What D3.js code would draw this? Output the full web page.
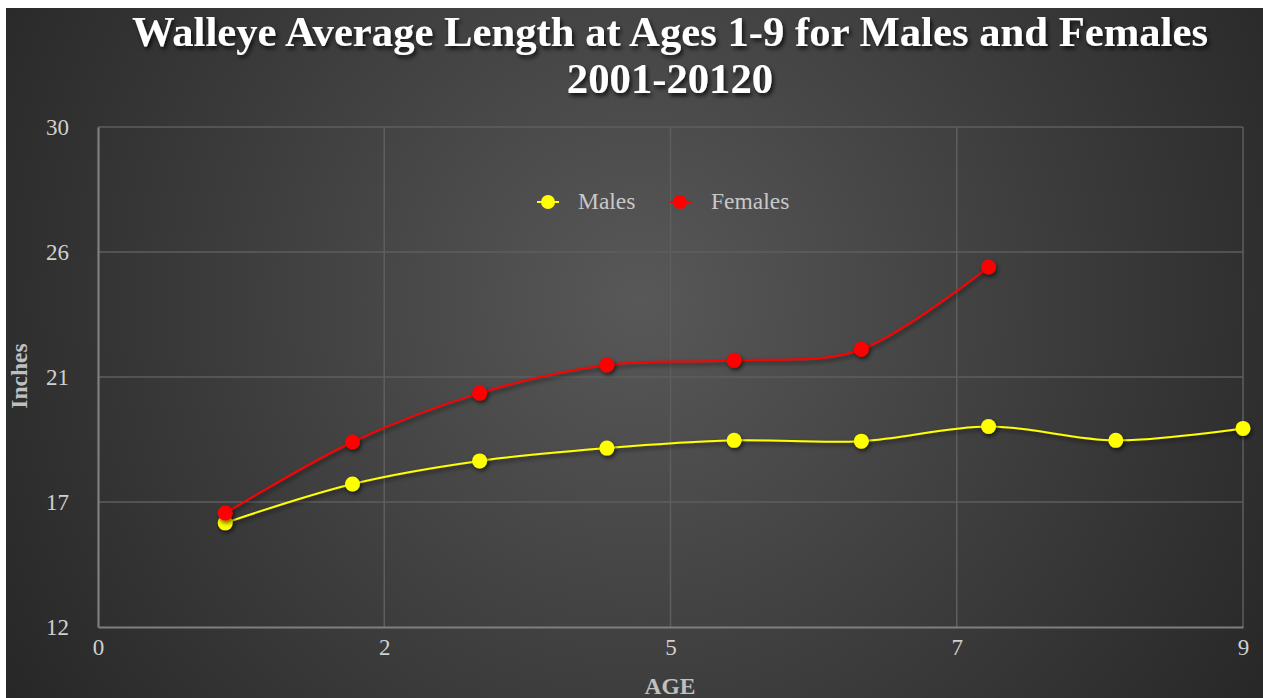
<!DOCTYPE html>
<html>
<head>
<meta charset="utf-8">
<script src="https://cdn.jsdelivr.net/npm/d3@7"></script>
<style>
  html, body { margin: 0; padding: 0; background: #ffffff; }
  svg { display: block; }
</style>
</head>
<body>
<svg id="chart" width="1263" height="698"></svg>
<script>
// ---- data ----
const ages = [1, 2, 3, 4, 5, 6, 7, 8, 9];
const males = [15.75, 17.15, 17.98, 18.44, 18.72, 18.69, 19.22, 18.72, 19.15];
const females = [16.1, 18.66, 20.42, 21.43, 21.6, 22.0, 24.96];
const xTickValues = [0, 2.25, 4.5, 6.75, 9];
const xTickLabels = ["0", "2", "5", "7", "9"];
const yTickValues = [12, 16.5, 21, 25.5, 30];
const yTickLabels = ["12", "17", "21", "26", "30"];
const seriesNames = ["Males", "Females"];
const seriesColors = ["#ffff00", "#ff0000"];
const titleLines = ["Walleye Average Length at Ages 1-9 for Males and Females", "2001-20120"];

// ---- layout ----
const svg = d3.select("#chart");
const W = 1263, H = 698;
const bgX = 6, bgY = 8;
const plot = { left: 98, right: 1243, top: 127, bottom: 627 };

const defs = svg.append("defs");
const grad = defs.append("radialGradient")
  .attr("id", "bg").attr("gradientUnits", "userSpaceOnUse")
  .attr("cx", 640).attr("cy", 300).attr("r", 760);
grad.append("stop").attr("offset", "0%").attr("stop-color", "#585858");
grad.append("stop").attr("offset", "55%").attr("stop-color", "#3c3c3c");
grad.append("stop").attr("offset", "100%").attr("stop-color", "#262626");

const shadow = defs.append("filter").attr("id", "shadow")
  .attr("x", "-50%").attr("y", "-50%").attr("width", "200%").attr("height", "200%");
shadow.append("feDropShadow").attr("dx", 1.5).attr("dy", 2.5).attr("stdDeviation", 2.2)
  .attr("flood-color", "#000").attr("flood-opacity", 0.6);

const tshadow = defs.append("filter").attr("id", "tshadow")
  .attr("x", "-10%").attr("y", "-30%").attr("width", "120%").attr("height", "160%");
tshadow.append("feDropShadow").attr("dx", 2).attr("dy", 3).attr("stdDeviation", 2)
  .attr("flood-color", "#000").attr("flood-opacity", 0.75);

svg.append("rect").attr("x", bgX).attr("y", bgY)
  .attr("width", W - bgX).attr("height", H - bgY).attr("fill", "url(#bg)");

const x = d3.scaleLinear().domain([0, 9]).range([plot.left, plot.right]);
const y = d3.scaleLinear().domain([12, 30]).range([plot.bottom, plot.top]);

const serif = "Liberation Serif";

// gridlines
const grid = svg.append("g");
grid.selectAll("line.h").data(yTickValues.slice(1)).join("line")
  .attr("x1", plot.left).attr("x2", plot.right)
  .attr("y1", d => y(d)).attr("y2", d => y(d))
  .attr("stroke", "#5e5e5e").attr("stroke-width", 1.5);
grid.selectAll("line.v").data(xTickValues.slice(1)).join("line")
  .attr("y1", plot.top).attr("y2", plot.bottom)
  .attr("x1", d => x(d)).attr("x2", d => x(d))
  .attr("stroke", "#5e5e5e").attr("stroke-width", 1.5);

// axes
const xAxis = d3.axisBottom(x).tickValues(xTickValues)
  .tickFormat((d, i) => xTickLabels[i]).tickSize(0).tickPadding(12);
const gx = svg.append("g").attr("transform", `translate(0,${plot.bottom})`).call(xAxis)
  .attr("font-family", serif).attr("font-size", 23);
gx.select(".domain").attr("stroke", "#7f7f7f").attr("stroke-width", 2.2);
gx.selectAll("text").attr("fill", "#d0d0d0");

const yAxis = d3.axisLeft(y).tickValues(yTickValues)
  .tickFormat((d, i) => yTickLabels[i]).tickSize(0).tickPadding(29);
const gy = svg.append("g").attr("transform", `translate(${plot.left},0)`).call(yAxis)
  .attr("font-family", serif).attr("font-size", 23);
gy.select(".domain").attr("stroke", "#7f7f7f").attr("stroke-width", 2.2);
gy.selectAll("text").attr("fill", "#d0d0d0");

// series
const line = d3.line().x(d => x(d[0])).y(d => y(d[1])).curve(d3.curveCatmullRom.alpha(0));
const seriesData = [males, females].map(vals => vals.map((v, i) => [ages[i], v]));

seriesData.forEach((pts, si) => {
  const g = svg.append("g");
  g.append("path").datum(pts).attr("d", line)
    .attr("fill", "none").attr("stroke", seriesColors[si]).attr("stroke-width", 2)
    .attr("filter", "url(#shadow)");
  g.selectAll("circle").data(pts).join("circle")
    .attr("cx", d => x(d[0])).attr("cy", d => y(d[1])).attr("r", 7.5)
    .attr("fill", seriesColors[si]).attr("filter", "url(#shadow)");
});

// legend
const legendItems = [{ cx: 548, tx: 578 }, { cx: 680, tx: 711 }];
const lg = svg.append("g");
legendItems.forEach((it, i) => {
  lg.append("line").attr("x1", it.cx - 11).attr("x2", it.cx + 11)
    .attr("y1", 202).attr("y2", 202).attr("stroke", seriesColors[i]).attr("stroke-width", 2);
  lg.append("circle").attr("cx", it.cx).attr("cy", 202).attr("r", 7).attr("fill", seriesColors[i]);
  lg.append("text").attr("x", it.tx).attr("y", 209).text(seriesNames[i])
    .attr("font-family", serif).attr("font-size", 23.5).attr("fill", "#c8c8c8");
});

// title
svg.append("g").attr("filter", "url(#tshadow)")
  .selectAll("text").data(titleLines).join("text")
  .attr("x", 670).attr("y", (d, i) => 46 + i * 47)
  .attr("text-anchor", "middle")
  .attr("font-family", serif).attr("font-weight", "bold").attr("font-size", 42.7)
  .attr("fill", "#ffffff").text(d => d);

// axis titles
svg.append("text").attr("x", 670).attr("y", 694).attr("text-anchor", "middle")
  .attr("font-family", serif).attr("font-weight", "bold").attr("font-size", 23.5)
  .attr("fill", "#c0c0c0").text("AGE");
svg.append("text").attr("transform", "translate(27,376) rotate(-90)").attr("text-anchor", "middle")
  .attr("font-family", serif).attr("font-weight", "bold").attr("font-size", 23.5)
  .attr("fill", "#c0c0c0").text("Inches");
</script>
</body>
</html>
